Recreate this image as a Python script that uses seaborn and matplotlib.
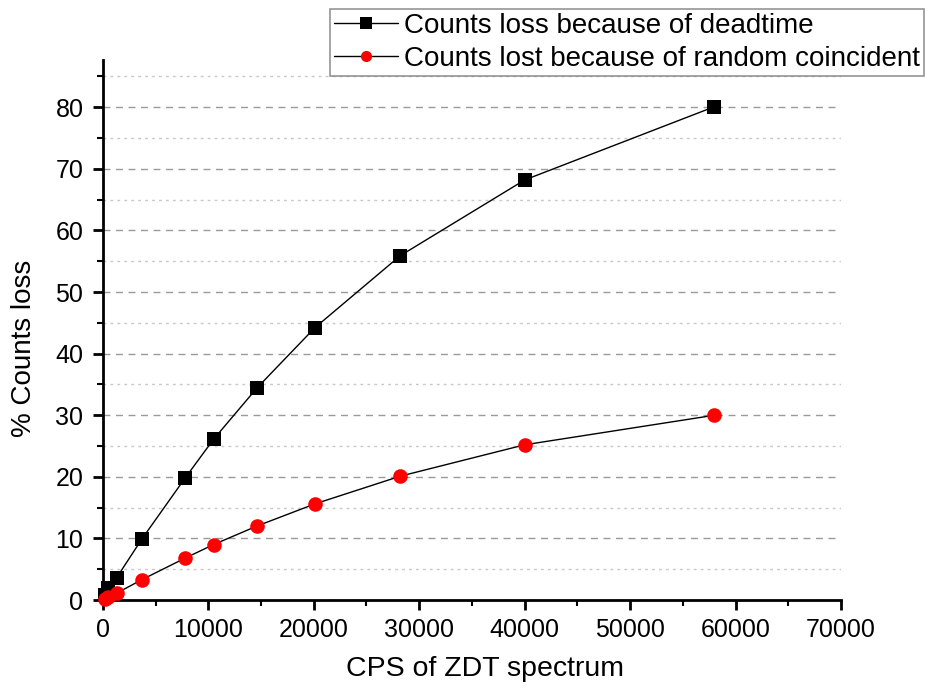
import matplotlib
matplotlib.use("Agg")
import matplotlib.pyplot as plt
import seaborn as sns
import pandas as pd
from matplotlib.ticker import MultipleLocator

# Data
cps = [200, 500, 1300, 3700, 7800, 10500, 14600, 20100, 28200, 40000, 58000]
deadtime_loss = [0.8, 2.0, 3.6, 9.9, 19.8, 26.1, 34.4, 44.2, 55.9, 68.2, 80.1]
random_loss = [0.2, 0.5, 1.1, 3.3, 6.8, 9.0, 12.0, 15.6, 20.1, 25.2, 30.0]
series_labels = ["Counts loss because of deadtime",
                 "Counts lost because of random coincident"]
x_label = "CPS of ZDT spectrum"
y_label = "% Counts loss"

sns.set_style("white")
plt.rcParams['font.family'] = ['Liberation Sans', 'DejaVu Sans']
plt.rcParams['text.color'] = 'black'
plt.rcParams['axes.labelcolor'] = 'black'

fig = plt.figure(figsize=(9.35, 6.88), dpi=100)
ax = fig.add_axes([0.110, 0.1279, 0.7895, 0.7851])

df1 = pd.DataFrame({"x": cps, "y": deadtime_loss})
df2 = pd.DataFrame({"x": cps, "y": random_loss})
sns.lineplot(data=df1, x="x", y="y", ax=ax, color="black", linewidth=1.0,
             marker="s", markersize=9.5, markeredgewidth=0, markerfacecolor="black",
             label=series_labels[0], clip_on=False, zorder=3)
sns.lineplot(data=df2, x="x", y="y", ax=ax, color="black", linewidth=1.0,
             marker="o", markersize=10.5, markeredgewidth=0, markerfacecolor="red",
             label=series_labels[1], clip_on=False, zorder=3)

ax.set_xlim(0, 70000)
ax.set_ylim(0, 87.7)
ax.xaxis.set_major_locator(MultipleLocator(10000))
ax.xaxis.set_minor_locator(MultipleLocator(5000))
ax.yaxis.set_major_locator(MultipleLocator(10))
ax.yaxis.set_minor_locator(MultipleLocator(5))

for s in ["top", "right"]:
    ax.spines[s].set_visible(False)
for s in ["left", "bottom"]:
    ax.spines[s].set_linewidth(2.0)
    ax.spines[s].set_color("black")

ax.tick_params(axis="y", which="major", direction="out", length=7, width=2,
               labelsize=18, colors="black", left=True, pad=7)
ax.tick_params(axis="x", which="major", direction="out", length=7, width=2,
               labelsize=18, colors="black", bottom=True, pad=6)
ax.tick_params(axis="both", which="minor", direction="out", length=4, width=1.5,
               colors="black", left=True, bottom=True)

ax.yaxis.grid(True, which="major", linestyle=(0, (5, 4)), color="#9a9a9a", linewidth=1.0)
ax.yaxis.grid(True, which="minor", linestyle=(0, (2, 3)), color="#c8c8c8", linewidth=1.0)
ax.xaxis.grid(False)
ax.set_axisbelow(True)

ax.set_xlabel(x_label, fontsize=20.5, color="black")
ax.set_ylabel(y_label, fontsize=20, color="black")
ax.xaxis.set_label_coords(0.518, -0.104)
ax.yaxis.set_label_coords(-0.089, 0.465)

leg = ax.legend(loc="upper left", bbox_to_anchor=(330/935, 1 - 9/688),
                bbox_transform=fig.transFigure, fontsize=20.0, frameon=True,
                fancybox=False, edgecolor="#7a7a7a", handlelength=2.3,
                borderpad=0.15, labelspacing=0.25, handletextpad=0.2, borderaxespad=0)
leg.get_frame().set_linewidth(1.2)
for t in leg.get_texts():
    t.set_color("black")
for h in leg.legend_handles:
    h.set_markersize(8)

fig.savefig("out.png", dpi=100)
